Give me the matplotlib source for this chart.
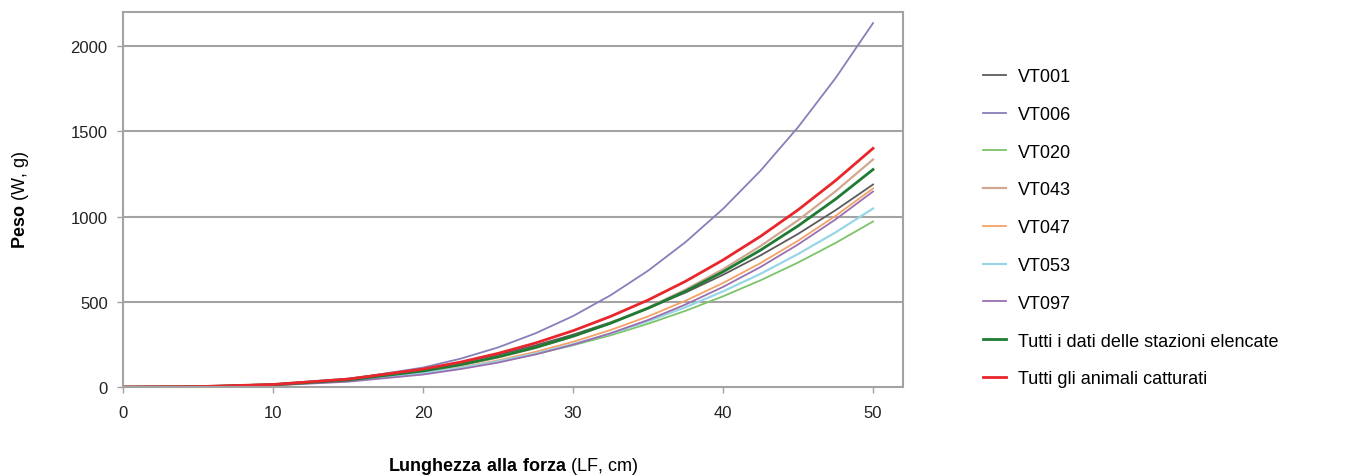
import matplotlib
matplotlib.use('Agg')
import matplotlib.pyplot as plt

plt.rcParams['font.family'] = ['Liberation Sans', 'DejaVu Sans']
plt.rcParams['mathtext.fontset'] = 'custom'
plt.rcParams['mathtext.rm'] = 'Liberation Sans'
plt.rcParams['mathtext.bf'] = 'Liberation Sans:bold'

# lunghezza alla forza (cm)
lf = [0, 5, 10, 15, 20, 22.5, 25, 27.5, 30, 32.5, 35, 37.5, 40, 42.5, 45, 47.5, 50]

# peso (g)
vt001 = [0, 2.7, 16.7, 49, 105, 143, 189, 244, 307, 379, 462, 554, 658, 772, 898, 1037, 1188]
vt006 = [0, 1.3, 12.4, 45, 114, 166, 232, 315, 416, 538, 682, 850, 1045, 1269, 1524, 1812, 2135]
vt020 = [0, 1.9, 12.6, 38, 82, 112, 149, 193, 245, 303, 371, 447, 532, 626, 730, 845, 971]
vt043 = [0, 1.5, 11.6, 38, 89, 127, 173, 229, 296, 375, 466, 571, 691, 827, 978, 1148, 1335]
vt047 = [0, 1.5, 11.0, 35, 82, 115, 156, 206, 265, 334, 414, 506, 610, 727, 858, 1004, 1165]
vt053 = [0, 1.7, 11.6, 36, 81, 112, 150, 196, 251, 313, 386, 468, 561, 664, 780, 907, 1047]
vt097 = [0, 1.1, 9.2, 31, 73, 105, 143, 191, 248, 315, 393, 484, 587, 704, 836, 983, 1147]
tutti_stazioni = [0, 1.8, 13.0, 41, 94, 131, 177, 232, 298, 374, 462, 562, 676, 803, 945, 1102, 1276]
tutti_animali = [0, 2.1, 14.7, 46, 105, 146, 197, 258, 330, 414, 510, 620, 745, 884, 1039, 1211, 1400]

series = [
    ('VT001', vt001, '#5e5a5c', 1.3),
    ('VT006', vt006, '#8580bb', 1.3),
    ('VT020', vt020, '#7cc36a', 1.3),
    ('VT043', vt043, '#d2a791', 1.6),
    ('VT047', vt047, '#f4a266', 1.3),
    ('VT053', vt053, '#98d6e6', 1.6),
    ('VT097', vt097, '#9a6fb0', 1.3),
    ('Tutti i dati delle stazioni elencate', tutti_stazioni, '#1e7b33', 2.0),
    ('Tutti gli animali catturati', tutti_animali, '#e8262c', 2.0),
]

fig = plt.figure(figsize=(13.47, 4.77), dpi=100)
ax = fig.add_axes([0.0913, 0.1866, 0.5791, 0.7861])

for name, vals, col, lw in series:
    ax.plot(lf, vals, color=col, lw=lw, label=name)

ax.set_xlim(0, 52)
ax.set_ylim(0, 2200)
ax.set_xticks([0, 10, 20, 30, 40, 50])
ax.set_yticks([0, 500, 1000, 1500, 2000])
for yv in [500, 1000, 1500, 2000]:
    ax.axhline(yv, color='#a3a3a3', lw=1.5, zorder=0)

for s in ax.spines.values():
    s.set_color('#a3a3a3')
    s.set_linewidth(1.5)
ax.tick_params(axis='both', direction='out', length=4, width=1, color='#a3a3a3',
               labelsize=12, labelcolor='#222222')
ax.tick_params(axis='x', pad=9)
ax.tick_params(axis='y', pad=7)

ax.set_xlabel(r'$\mathbf{Lunghezza\ alla\ forza}$ (LF, cm)', fontsize=13)
ax.set_ylabel(r'$\mathbf{Peso}$ (W, g)', fontsize=13)
ax.xaxis.set_label_coords(0.5, -0.182)
ax.yaxis.set_label_coords(-0.118, 0.5)

fig.legend(loc='upper left', bbox_to_anchor=(0.7298, 0.855), frameon=False,
           fontsize=13, labelspacing=1.15, handlelength=1.25, handletextpad=0.7,
           borderpad=0, borderaxespad=0)

fig.savefig('out.png', dpi=100)
